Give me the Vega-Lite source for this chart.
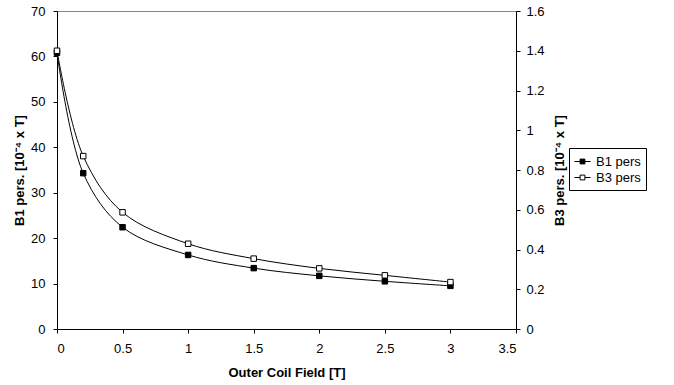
{
  "$schema": "https://vega.github.io/schema/vega-lite/v6.json",
  "autosize": "none",
  "width": 459,
  "height": 318,
  "padding": {"left": 57, "top": 11, "right": 158, "bottom": 56},
  "background": "white",
  "config": {
    "font": "Liberation Sans",
    "view": {"stroke": "#888888", "strokeWidth": 1},
    "axis": {
      "labelFont": "Liberation Sans", "labelFontSize": 13, "labelColor": "#000",
      "titleFont": "Liberation Sans", "titleFontSize": 13, "titleFontWeight": "bold", "titleColor": "#000",
      "domainColor": "#000", "tickColor": "#000", "tickSize": 4, "grid": false, "format": "~r"
    }
  },
  "data": {"values": [
    {"x": 0, "series": "B1 pers", "v": 60.8},
    {"x": 0.2, "series": "B1 pers", "v": 34.3},
    {"x": 0.5, "series": "B1 pers", "v": 22.4},
    {"x": 1, "series": "B1 pers", "v": 16.3},
    {"x": 1.5, "series": "B1 pers", "v": 13.4},
    {"x": 2, "series": "B1 pers", "v": 11.7},
    {"x": 2.5, "series": "B1 pers", "v": 10.5},
    {"x": 3, "series": "B1 pers", "v": 9.5},
    {"x": 0, "series": "B3 pers", "v": 1.40},
    {"x": 0.2, "series": "B3 pers", "v": 0.870},
    {"x": 0.5, "series": "B3 pers", "v": 0.587},
    {"x": 1, "series": "B3 pers", "v": 0.429},
    {"x": 1.5, "series": "B3 pers", "v": 0.354},
    {"x": 2, "series": "B3 pers", "v": 0.305},
    {"x": 2.5, "series": "B3 pers", "v": 0.270},
    {"x": 3, "series": "B3 pers", "v": 0.236}
  ]},
  "encoding": {
    "x": {"field": "x", "type": "quantitative", "scale": {"domain": [0, 3.5], "nice": false},
      "axis": {"values": [0, 0.5, 1, 1.5, 2, 2.5, 3, 3.5], "title": "Outer Coil Field [T]", "labelPadding": 9, "titlePadding": 11}}
  },
  "layer": [
    {
      "transform": [{"filter": "datum.series === 'B1 pers'"}],
      "encoding": {
        "y": {"field": "v", "type": "quantitative", "scale": {"domain": [0, 70], "nice": false},
          "axis": {"orient": "left", "values": [0, 10, 20, 30, 40, 50, 60, 70], "title": "B1 pers. [10⁻⁴ x T]", "labelPadding": 8, "titlePadding": 4}}
      },
      "layer": [
        {"mark": {"type": "line", "interpolate": "catmull-rom", "color": "black", "strokeWidth": 1}},
        {"mark": {"type": "point", "shape": "square", "filled": true, "size": 30, "stroke": "black", "strokeWidth": 1, "opacity": 1},
          "encoding": {"fill": {"field": "series", "type": "nominal",
            "scale": {"domain": ["B1 pers", "B3 pers"], "range": ["black", "white"]},
            "legend": {"title": null, "orient": "none", "legendX": 512, "legendY": 137,
              "strokeColor": "black", "padding": 5, "rowPadding": 0,
              "symbolType": "M-1,0H-0.3M0.3,0H1M-0.3,-0.3H0.3V0.3H-0.3Z",
              "symbolSize": 256, "symbolStrokeColor": "black", "symbolStrokeWidth": 1,
              "labelFont": "Liberation Sans", "labelFontSize": 13, "labelColor": "#000", "labelOffset": 5}}}}
      ]
    },
    {
      "transform": [{"filter": "datum.series === 'B3 pers'"}],
      "encoding": {
        "y": {"field": "v", "type": "quantitative", "scale": {"domain": [0, 1.6], "nice": false},
          "axis": {"orient": "right", "values": [0, 0.2, 0.4, 0.6, 0.8, 1, 1.2, 1.4, 1.6], "title": "B3 pers. [10⁻⁴ x T]", "titleAngle": 270, "titleBaseline": "top", "labelPadding": 6, "titlePadding": 9}}
      },
      "layer": [
        {"mark": {"type": "line", "interpolate": "catmull-rom", "color": "black", "strokeWidth": 1}},
        {"mark": {"type": "point", "shape": "square", "filled": true, "size": 30, "stroke": "black", "strokeWidth": 1, "opacity": 1},
          "encoding": {"fill": {"field": "series", "type": "nominal",
            "scale": {"domain": ["B1 pers", "B3 pers"], "range": ["black", "white"]}}}}
      ]
    }
  ],
  "resolve": {"scale": {"y": "independent"}}
}
